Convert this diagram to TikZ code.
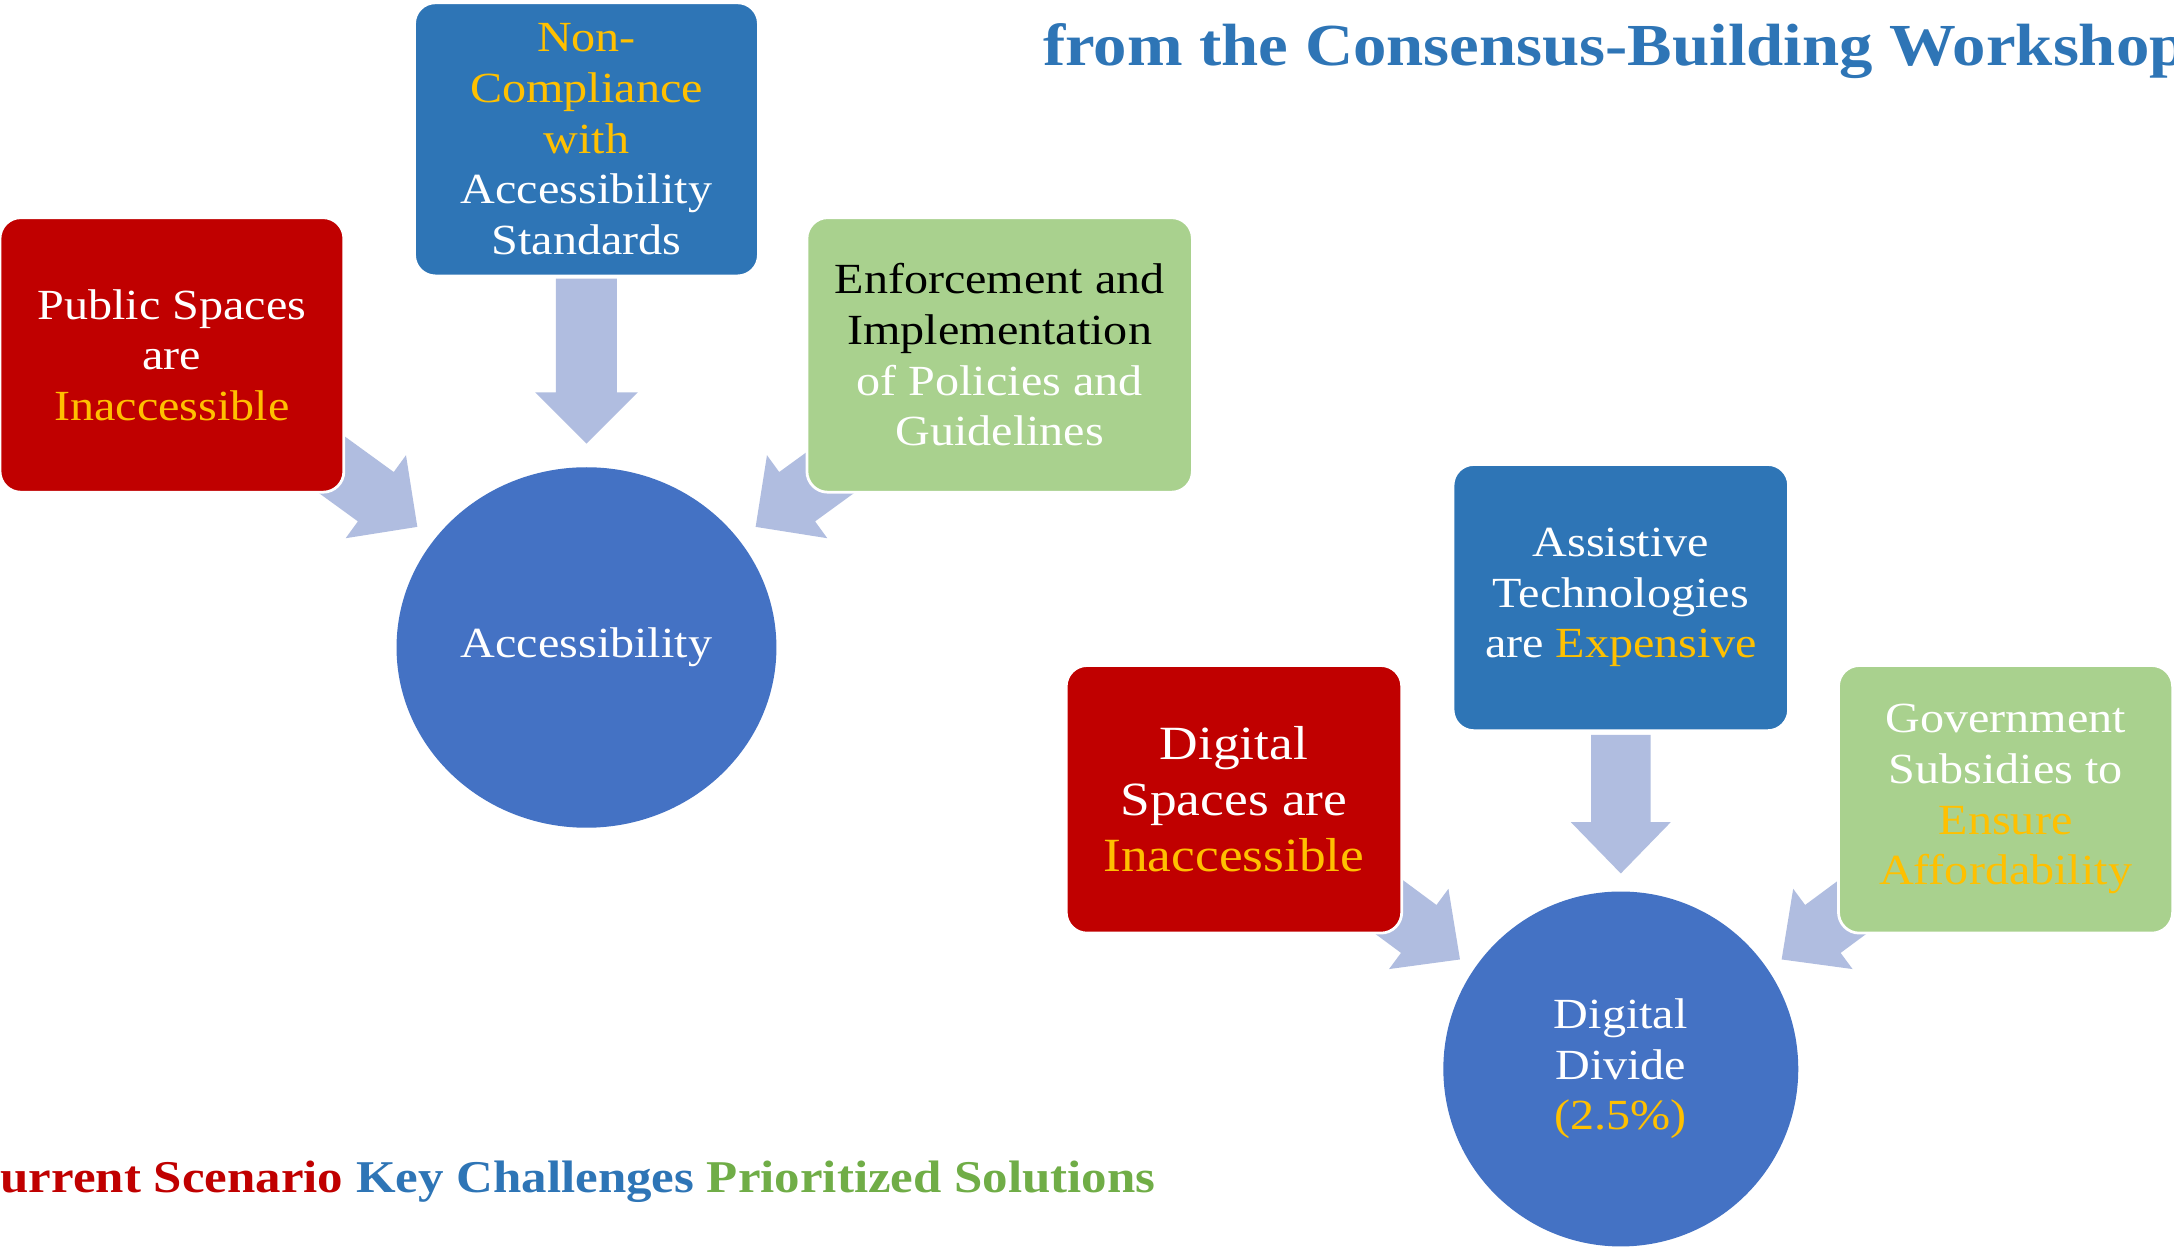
\documentclass[tikz,border=0pt]{standalone}
\usepackage{fontspec}
\setmainfont[FakeStretch=1.12]{Liberation Serif}
\usetikzlibrary{shapes.geometric}
\definecolor{cred}{RGB}{192,0,0}
\definecolor{cblue}{RGB}{46,117,182}
\definecolor{cgreen}{RGB}{169,209,142}
\definecolor{ccirc}{RGB}{68,114,196}
\definecolor{cgold}{RGB}{255,192,0}
\definecolor{carrow}{RGB}{176,189,224}
\definecolor{clegg}{RGB}{112,173,71}
\newcommand{\gd}[1]{\textcolor{cgold}{#1}}
\newcommand{\wt}[1]{\textcolor{white}{#1}}
\newcommand{\blockarr}[5]{% tip, angle, length, headhalf, shafthalf
  \begin{scope}[shift={(#1)}, rotate=#2]
    \fill[carrow] (0,0) -- (-37,#4) -- (-37,#5) -- (-#3,#5) -- (-#3,-#5) -- (-37,-#5) -- (-37,-#4) -- cycle;
  \end{scope}}
\begin{document}
\begin{tikzpicture}[x=0.5pt,y=-0.5pt,
  box/.style={rounded corners=7.5pt, draw=white, line width=1pt, align=center, inner sep=0pt,
     font=\fontsize{15.5}{18.25}\selectfont, text=white},
  circ/.style={ellipse, fill=ccirc, align=center, inner sep=0pt, text=white,
     font=\fontsize{15.5}{18.25}\selectfont},
  lbl/.style={inner sep=0pt, font=\bfseries\fontsize{16.4}{19}\selectfont}]
\useasboundingbox[fill=white] (0,0) rectangle (1568,899);

% tips of arrows
\coordinate (t1) at (423,320);
\coordinate (t2) at (301,380);
\coordinate (t3) at (545,380);
\coordinate (t4) at (1169,630);
\coordinate (t5) at (1053,692);
\coordinate (t6) at (1285,692);

% arrows (drawn below the boxes)
\blockarr{t1}{-90}{119}{37}{22}
\blockarr{t2}{-36}{125}{37}{22}
\blockarr{t3}{-144}{125}{37}{22}
\blockarr{t4}{-90}{100}{36}{21.5}
\blockarr{t5}{-36.5}{110}{36}{21.5}
\blockarr{t6}{-143.5}{110}{36}{21.5}

% group 1
\node[circ, minimum width=137pt, minimum height=130pt] (acc) at (423,467) {Accessibility};
\node[box, fill=cred, minimum width=124pt, minimum height=99pt] (pub) at (124,256)
  {Public Spaces\\are\\\gd{Inaccessible}};
\node[box, fill=cblue, minimum width=124pt, minimum height=98.5pt] (non) at (423,100.5)
  {\gd{Non-}\\\gd{Compliance}\\\gd{with}\\Accessibility\\Standards};
\node[box, fill=cgreen, minimum width=139pt, minimum height=99pt, text=black] (enf) at (721,256)
  {Enforcement and\\Implementation\\\wt{of Policies and}\\\wt{Guidelines}};

% group 2
\node[circ, minimum width=128pt, minimum height=128pt] (dig) at (1169,771)
  {Digital\\Divide\\\gd{(2.5\%)}};
\node[box, fill=cred, minimum width=121pt, minimum height=96.5pt,
  font=\fontsize{17.2}{20.25}\selectfont] (dsp) at (890,576.5)
  {Digital\\Spaces are\\\gd{Inaccessible}};
\node[box, fill=cblue, minimum width=121pt, minimum height=96pt] (ast) at (1169,431)
  {Assistive\\Technologies\\are \gd{Expensive}};
\node[box, fill=cgreen, minimum width=120.5pt, minimum height=96.5pt] (gov) at (1446.5,576.5)
  {Government\\Subsidies to\\\gd{Ensure}\\\gd{Affordability}};

% title and legend
\node[lbl, anchor=base west, text=cblue, font=\bfseries\fontsize{21.5}{24}\selectfont] (title) at (752,47)
  {from the Consensus-Building Workshop};
\node[lbl, anchor=base west] (legend) at (0,860)
  {\textcolor{cred}{\llap{C}urrent Scenario} \textcolor{cblue}{Key Challenges} \textcolor{clegg}{Prioritized Solutions}};
\end{tikzpicture}
\end{document}
